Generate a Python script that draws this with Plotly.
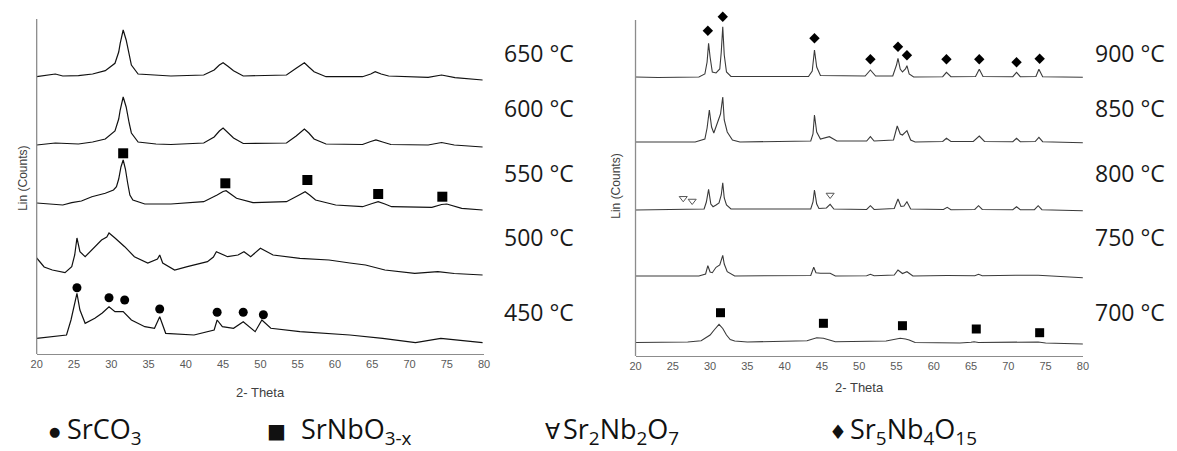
import plotly.graph_objects as go

W, H = 1177, 451

# ---------------- data (2-theta in degrees, intensity in arbitrary counts above each pattern's baseline)
# Left panel
tt_650 = [20.0, 22.5, 23.5, 25.6, 27.5, 29.2, 30.5, 31.0, 31.2, 31.6, 32.0, 32.4, 32.7, 33.6, 36.0, 38.0, 42.4, 43.8, 44.5, 45.0, 45.6, 46.4, 47.7, 53.5, 54.8, 55.5, 55.9, 56.5, 57.2, 58.8, 63.7, 64.8, 65.4, 66.2, 67.2, 72.5, 74.3, 76.1, 79.8]
i_650 = [0.3, 3, 1, 1.3, 3, 6.3, 13.7, 25, 33.7, 47, 37, 22, 12, 3, 1.5, 1, 2, 7, 12, 14.3, 11, 6.3, 1, 2, 8.7, 12.5, 14.3, 10, 5.3, 0.3, 0.3, 3, 5.3, 3, 1, -0.3, 2, -0.7, -3]

tt_600 = [20.0, 22.5, 25.6, 27.5, 29.2, 30.5, 31.0, 31.2, 31.6, 32.0, 32.4, 32.7, 33.6, 36.0, 38.0, 42.4, 43.8, 44.5, 45.0, 45.6, 46.4, 47.7, 53.5, 54.8, 55.5, 55.9, 56.5, 57.2, 58.8, 63.7, 64.8, 65.5, 66.4, 67.5, 72.5, 74.3, 76.0, 79.8]
i_600 = [0, 2, 1, 3, 6, 14, 26, 35, 48, 38, 22, 12, 3, 1, 0.5, 2, 8, 14, 17, 13, 7, 1.5, 2, 9, 14, 16, 12, 6, 1, 0.5, 3.5, 5, 3, 0.5, 0, 2.5, 0, -2]

tt_550 = [20.0, 22.0, 23.5, 24.7, 26.0, 27.4, 29.2, 30.3, 30.7, 31.0, 31.3, 31.6, 31.9, 32.2, 32.5, 32.9, 34.5, 38.0, 42.4, 44.2, 45.0, 45.4, 46.0, 46.8, 49.0, 53.5, 55.2, 56.0, 56.6, 57.4, 60.1, 63.7, 65.0, 65.8, 66.7, 67.6, 73.0, 74.3, 75.0, 77.0, 79.8]
i_550 = [2, 1, 0, 2.3, 4, 8.3, 11.7, 15, 18.3, 26, 38, 45, 36, 22, 10, 5, 1, 1, 3.3, 10, 13.5, 14.3, 11, 6.7, 2.3, 3.3, 10, 13.3, 10, 5, 0, -1.7, 1.5, 3.3, 1, -1.7, -2.3, 0.5, 1, -3.3, -5]

tt_500 = [20.0, 21.0, 22.1, 23.8, 24.7, 25.1, 25.4, 25.8, 26.5, 27.8, 28.7, 29.4, 29.7, 30.5, 31.8, 33.1, 34.9, 36.2, 36.5, 36.9, 38.5, 40.2, 42.9, 43.7, 44.1, 45.6, 47.0, 47.8, 48.7, 50.0, 51.7, 55.3, 59.2, 62.0, 64.1, 66.7, 70.7, 73.8, 76.0, 79.8]
i_500 = [17, 8, 5, 2.3, 8.3, 20, 37, 23.3, 18.3, 28.3, 35, 38, 42, 37, 28.3, 18.3, 12, 16, 20, 12, 5, 8.3, 13.3, 18, 23.3, 18.3, 20, 23.3, 18.3, 26.7, 20, 16.7, 15, 12, 10, 5, 1.7, 3.3, 1.5, 0]

tt_450 = [20.0, 24.0, 24.6, 25.0, 25.4, 25.8, 26.5, 27.8, 28.8, 29.7, 30.5, 31.6, 32.7, 34.5, 35.8, 36.5, 37.3, 41.1, 43.8, 44.2, 44.9, 46.4, 47.7, 49.3, 50.2, 51.4, 55.3, 62.0, 66.4, 70.8, 74.2, 79.8]
i_450 = [1.7, 5, 20, 35, 46.7, 30, 16.7, 21.7, 27, 33.3, 28.3, 28.3, 20, 13.3, 11.7, 23.3, 6.7, 5, 10, 20, 13.3, 11.7, 18.3, 8.3, 20, 11.7, 8.3, 5, 1.7, -2.7, 1.7, -2.7]

# Right panel
tt_900 = [20.0, 23.0, 28.5, 29.3, 29.6, 29.8, 30.0, 30.3, 30.8, 31.3, 31.5, 31.7, 31.9, 32.2, 32.8, 43.2, 43.7, 44.0, 44.3, 44.8, 50.8, 51.5, 52.2, 54.5, 55.0, 55.2, 55.5, 55.8, 56.2, 56.4, 56.7, 57.3, 61.2, 61.7, 62.3, 65.6, 66.1, 66.6, 70.6, 71.1, 71.6, 73.7, 74.1, 74.6, 80.0]
i_900 = [0, -0.5, 0, 3, 15, 33.7, 20, 5, 4, 8, 25, 50.3, 22, 5, 0.5, 0.5, 6, 27, 10, 1.5, 1, 7, 1, 1, 12, 18.7, 8, 5, 8, 11.3, 3, 0, 0.3, 4.7, 0.3, 0.5, 7.7, 0.5, 0.3, 4.7, 0.3, 0.5, 7.7, 0.3, -0.3]

tt_850 = [20.0, 28.0, 29.3, 29.6, 29.9, 30.2, 30.5, 31.0, 31.4, 31.7, 31.9, 32.3, 33.0, 34.0, 43.5, 43.8, 44.0, 44.3, 44.8, 46.0, 47.0, 51.0, 51.5, 52.0, 54.6, 55.1, 55.5, 55.8, 56.4, 56.9, 57.5, 61.2, 61.7, 62.3, 65.3, 66.1, 66.8, 70.6, 71.1, 71.6, 73.6, 74.1, 74.6, 80.0]
i_850 = [0, 0, 3, 14, 32, 15, 9, 20, 28, 45, 22, 10, 2, 0, 1, 8, 27, 10, 3, 5.3, 1, 1, 5.3, 1, 2, 16, 8, 7, 11.3, 2, 0, 0.5, 3.7, 0.5, 0.5, 6, 0.5, 0.3, 3.7, 0.3, 0.5, 4.7, 0.3, -0.7]

tt_800 = [20.0, 26.6, 29.2, 29.5, 29.8, 30.1, 30.4, 30.8, 31.2, 31.5, 31.7, 31.9, 32.2, 32.8, 43.5, 43.8, 44.0, 44.3, 44.6, 45.6, 46.1, 46.6, 51.0, 51.5, 52.0, 54.7, 55.2, 55.6, 56.0, 56.4, 56.9, 61.3, 61.8, 62.3, 65.5, 66.0, 66.5, 70.6, 71.1, 71.6, 73.5, 74.0, 74.5, 80.0]
i_800 = [0, 0.5, 1, 8, 20.7, 6, 3.3, 5, 7, 15, 27.3, 12, 5, 1, 1, 8, 20, 6, 1.5, 2, 5.7, 1, 0.5, 4.3, 0.5, 1.5, 11, 3.5, 4, 8.3, 1, 0.5, 2.7, 0.3, 0.5, 4.3, 0.5, 0.3, 3.3, 0.3, 0.3, 4.3, 0.3, -0.7]

tt_750 = [20.0, 28.5, 29.4, 29.7, 30.0, 30.3, 30.8, 31.3, 31.7, 31.9, 32.3, 33.3, 43.5, 43.9, 44.2, 44.8, 46.1, 46.8, 51.0, 51.5, 52.0, 54.7, 55.2, 55.8, 56.4, 57.2, 61.8, 65.5, 66.0, 66.5, 71.0, 74.0, 80.0]
i_750 = [0, 0, 2, 10.3, 4, 3.3, 8.7, 11, 20.7, 12, 4.3, 0, 0.5, 8.7, 3.3, 2.7, 2.7, 0, 0.3, 1.7, 0.3, 1, 6, 2.5, 4.3, 0, 0.5, 0.3, 1.7, 0.3, 0.7, 0.7, -1.7]

tt_700 = [20.0, 27.0, 28.8, 30.0, 30.6, 31.2, 31.7, 32.2, 32.7, 33.3, 35.0, 43.0, 44.3, 45.2, 46.0, 46.8, 53.6, 55.0, 55.5, 56.2, 56.7, 57.5, 63.5, 65.0, 65.4, 66.0, 73.1, 74.0, 75.0, 80.0]
i_700 = [0, 0.5, 1.8, 7.5, 13, 18.2, 14, 7.5, 3, 1.5, 0.5, 1.8, 4.8, 4.2, 2.5, 0.8, 1.5, 3.5, 4.2, 3.5, 2.5, 0, -0.5, 0.3, 0.8, 0, -0.2, 0.5, -0.5, -1.5]

# Phase markers (2-theta, height above the pattern baseline)
srco3_tt = [25.4, 29.7, 31.8, 36.5, 44.2, 47.7, 50.4]          # on 450 °C
srco3_h = [52.3, 42.3, 40, 31, 27.7, 27.7, 25.3]
srnbo3_l_tt = [31.6, 45.3, 56.3, 65.8, 74.4]                   # on 550 °C
srnbo3_l_h = [51.7, 21.7, 25, 11, 8.3]
srnbo3_r_tt = [31.4, 45.2, 55.8, 65.7, 74.2]                   # on 700 °C
srnbo3_r_h = [29.8, 19.2, 16.8, 13.5, 9.8]
sr2nb2o7_tt = [26.4, 27.6, 46.1]                               # on 800 °C
sr2nb2o7_h = [11.7, 9, 15]
sr5nb4o15_tt = [29.7, 31.7, 44.0, 51.5, 55.2, 56.4, 61.7, 66.1, 71.1, 74.2]  # on 900 °C
sr5nb4o15_h = [46.3, 60.3, 38.7, 17.7, 30.3, 21.7, 17.7, 17.7, 14.7, 18.3]

left_labels = ["650 °C", "600 °C", "550 °C", "500 °C", "450 °C"]
right_labels = ["900 °C", "850 °C", "800 °C", "750 °C", "700 °C"]
x_ticks = [20, 25, 30, 35, 40, 45, 50, 55, 60, 65, 70, 75, 80]
legend_symbols = ["●", "■", "∀", "♦"]
legend_names = ["SrCO<sub>3</sub>", "SrNbO<sub>3-x</sub>", "Sr<sub>2</sub>Nb<sub>2</sub>O<sub>7</sub>", "Sr<sub>5</sub>Nb<sub>4</sub>O<sub>15</sub>"]

# ---------------- presentation
left_offsets = [277, 209, 149, 79, 14]
right_offsets = [279, 214, 146, 80, 13.5]

left_series = [(tt_650, i_650), (tt_600, i_600), (tt_550, i_550), (tt_500, i_500), (tt_450, i_450)]
right_series = [(tt_900, i_900), (tt_850, i_850), (tt_800, i_800), (tt_750, i_750), (tt_700, i_700)]

def px(x):
    return x / W

def py(y):
    return 1 - y / H

fig = go.Figure()

for (tt, ii), off in zip(left_series, left_offsets):
    fig.add_trace(go.Scatter(x=tt, y=[v + off for v in ii], mode="lines",
                             line=dict(color="#111111", width=1.2), xaxis="x", yaxis="y",
                             showlegend=False, hoverinfo="skip"))
for (tt, ii), off in zip(right_series, right_offsets):
    fig.add_trace(go.Scatter(x=tt, y=[v + off for v in ii], mode="lines",
                             line=dict(color="#3a3a3a", width=1.1), xaxis="x2", yaxis="y2",
                             showlegend=False, hoverinfo="skip"))

def markers(tt, hh, off, ax, symbol, size, color="black", lw=0):
    fig.add_trace(go.Scatter(x=tt, y=[h + off for h in hh], mode="markers", cliponaxis=False,
                             marker=dict(symbol=symbol, size=size, color=color,
                                         line=dict(width=lw, color=color)),
                             xaxis="x" if ax == 1 else "x2", yaxis="y" if ax == 1 else "y2",
                             showlegend=False, hoverinfo="skip"))

markers(srco3_tt, srco3_h, left_offsets[4], 1, "circle", 9)
markers(srnbo3_l_tt, srnbo3_l_h, left_offsets[2], 1, "square", 10)
markers(srnbo3_r_tt, srnbo3_r_h, right_offsets[4], 2, "square", 9)
markers(sr2nb2o7_tt, sr2nb2o7_h, right_offsets[2], 2, "triangle-down-open", 7, color="#555555", lw=1)
markers(sr5nb4o15_tt, sr5nb4o15_h, right_offsets[0], 2, "diamond", 8)

xaxis_common = dict(showline=True, linecolor="#8c8c8c", linewidth=1.3, showgrid=False,
                    zeroline=False, ticks="", mirror=False,
                    tickfont=dict(family="Arial, Liberation Sans", size=11, color="#595959"))
yaxis_common = dict(showline=False, showgrid=False, zeroline=False, ticks="", showticklabels=False)

fig.update_layout(
    width=W, height=H, margin=dict(l=0, r=0, t=0, b=0),
    paper_bgcolor="white", plot_bgcolor="white",
    xaxis=dict(domain=[px(31), px(483)], range=[20, 80], tickvals=x_ticks, anchor="y", **xaxis_common),
    yaxis=dict(domain=[py(354), py(8)], range=[0, 346], anchor="x", **yaxis_common),
    xaxis2=dict(domain=[px(636), px(1088)], range=[20, 80], tickvals=x_ticks, anchor="y2", **xaxis_common),
    yaxis2=dict(domain=[py(356), py(8)], range=[0, 348], anchor="x2", **yaxis_common),
)

# vertical axis lines (the intensity axes), drawn to their visible height
shapes = [
    dict(type="line", xref="paper", yref="paper", x0=px(31), x1=px(31), y0=py(354), y1=py(19),
         line=dict(color="#8c8c8c", width=1.3)),
    dict(type="line", xref="paper", yref="paper", x0=px(636), x1=px(636), y0=py(356), y1=py(20),
         line=dict(color="#8c8c8c", width=1.3)),
]

ann = []
title_font = dict(family="Arial, Liberation Sans", size=13, color="#404040")
ann.append(dict(text="2- Theta", x=px(257), y=py(392), xref="paper", yref="paper",
                showarrow=False, font=title_font, xanchor="center", yanchor="middle"))
ann.append(dict(text="2- Theta", x=px(862), y=py(387), xref="paper", yref="paper",
                showarrow=False, font=title_font, xanchor="center", yanchor="middle"))
ann.append(dict(text="Lin (Counts)", x=px(17), y=py(178), xref="paper", yref="paper", textangle=-90,
                showarrow=False, font=dict(family="Arial, Liberation Sans", size=12, color="#404040"),
                xanchor="center", yanchor="middle"))
ann.append(dict(text="Lin (Counts)", x=px(616), y=py(186), xref="paper", yref="paper", textangle=-90,
                showarrow=False, font=dict(family="Arial, Liberation Sans", size=12, color="#404040"),
                xanchor="center", yanchor="middle"))

label_y = [53, 108, 173, 237, 312]
temp_font = dict(family="Open Sans", size=23, color="#1a1a1a")
for t, yy in zip(left_labels, label_y):
    ann.append(dict(text=t, x=px(501), y=py(yy), xref="paper", yref="paper", showarrow=False,
                    font=temp_font, xanchor="left", yanchor="middle"))
for t, yy in zip(right_labels, label_y):
    ann.append(dict(text=t, x=px(1098), y=py(yy), xref="paper", yref="paper", showarrow=False,
                    font=temp_font, xanchor="left", yanchor="middle"))

# legend row: symbol (right-aligned) followed by the phase name (left-aligned)
sym_right = [56, 284, 561, 851]
sym_y = [431, 431, 431, 432]
sym_size = [13, 20, 22, 20]
name_x = [61, 297, 562, 852]
leg_font = dict(family="Open Sans, DejaVu Sans", size=27, color="#111111")
for s, sx, sy, ss in zip(legend_symbols, sym_right, sym_y, sym_size):
    ann.append(dict(text=s, x=px(sx), y=py(sy), xref="paper", yref="paper", showarrow=False,
                    font=dict(family="DejaVu Sans", size=ss, color="#111111"), borderpad=0,
                    xanchor="right", yanchor="middle"))
for t, nx in zip(legend_names, name_x):
    ann.append(dict(text=t, x=px(nx), y=py(430), xref="paper", yref="paper", showarrow=False,
                    font=leg_font, xanchor="left", yanchor="middle", borderpad=0))

fig.update_layout(annotations=ann, shapes=shapes)
fig.write_html("out.html")
